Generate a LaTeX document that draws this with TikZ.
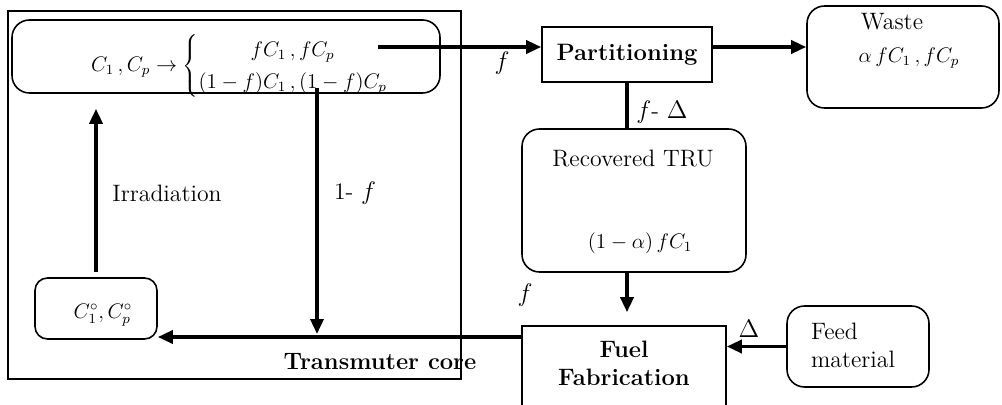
\documentclass[tikz,border=0pt]{standalone}
\usetikzlibrary{arrows.meta,positioning}
\begin{document}
\begin{tikzpicture}[x=0.2mm, y=-0.2mm, font=\fontsize{13.5}{16}\selectfont,
    box/.style={draw, line width=0.9pt, inner sep=0pt},
    rbox/.style={box, rounded corners=3.5mm},
    bold/.style={font=\fontsize{13.5}{16}\selectfont\bfseries},
    eq/.style={font=\fontsize{11.8}{13.2}\selectfont},
    flow/.style={line width=2pt, -{Triangle[length=3mm, width=2.6mm]}},
    link/.style={line width=2pt}]
    \clip (0,0) rectangle (1002,405);
    % transmuter core
    \draw[line width=0.9pt] (8,11) rectangle (461,379);
    \node[bold] (core) at (380,362) {Transmuter core};
    \node[rbox, minimum width=85.6mm, minimum height=14.6mm] (mix) at (226,56.5) {};
    \node[eq] (mixtxt) at (240,66) {$C_1\,, C_p \rightarrow \left\{\renewcommand{\arraystretch}{1.4}\begin{array}{@{}c@{}}
        fC_1\,, fC_p \\ (1-f)C_1\,, (1-f)C_p \end{array}\right.$};
    \node[rbox, rounded corners=2.5mm, minimum width=24.4mm, minimum height=12.2mm] (fresh) at (96,308.5) {};
    \node[eq] (freshtxt) at (103,315) {$C_1^\circ, C_p^\circ$};
    % outside the core
    \node[box, bold, minimum width=34mm, minimum height=11mm] (part) at (627,54.5) {Partitioning};
    \node[rbox, minimum width=38.4mm, minimum height=20.4mm] (waste) at (903,57) {};
    \node (wastetxt) at (892,22) {Waste};
    \node[eq] (wastemath) at (909,58) {$\alpha\, fC_1\,, fC_p$};
    \node[rbox, minimum width=44.8mm, minimum height=28.6mm] (tru) at (634,200.5) {};
    \node (trutxt) at (633,159) {Recovered TRU};
    \node[eq] (trumath) at (640,243) {$(1-\alpha)\,fC_1$};
    \node[box, minimum width=40.8mm, minimum height=23.8mm] (fuel) at (624,385.5) {};
    \node[bold, align=center] (fueltxt) at (624,363) {Fuel\\Fabrication};
    \node[rbox, minimum width=28.4mm, minimum height=16.2mm] (feed) at (858,346.5) {};
    \node[align=left] (feedtxt) at (853,345) {Feed\\material};
    % connectors
    \coordinate (out) at (378,47);
    \coordinate (split) at (317,88);
    \coordinate (back) at (522,337);
    \draw[flow] (out) -- (out -| part.west);
    \draw[flow] (out -| part.east) -- (out -| waste.west);
    \draw[link] (part.south) -- (part.south |- tru.north);
    \draw[flow, shorten >=2.6mm] (part.south |- tru.south) -- (part.south |- fuel.north);
    \draw[flow] (feed.west) -- (feed.west -| fuel.east);
    \draw[flow] (back) -- (back -| fresh.east);
    \draw[flow, shorten >=0.6mm] (split) -- (split |- back);
    \draw[flow, shorten <=1mm, shorten >=3mm] (fresh.north) -- (fresh.north |- mix.south);
    % labels
    \node (lf) at (502,63) {$f$};
    \node (lfd) at (662,112) {$f$- $\Delta$};
    \node (lrest) at (355,193) {1- $f$};
    \node (lirr) at (167,193) {Irradiation};
    \node (lf2) at (525,295) {$f$};
    \node (ld) at (749,329) {$\Delta$};
\end{tikzpicture}
\end{document}
